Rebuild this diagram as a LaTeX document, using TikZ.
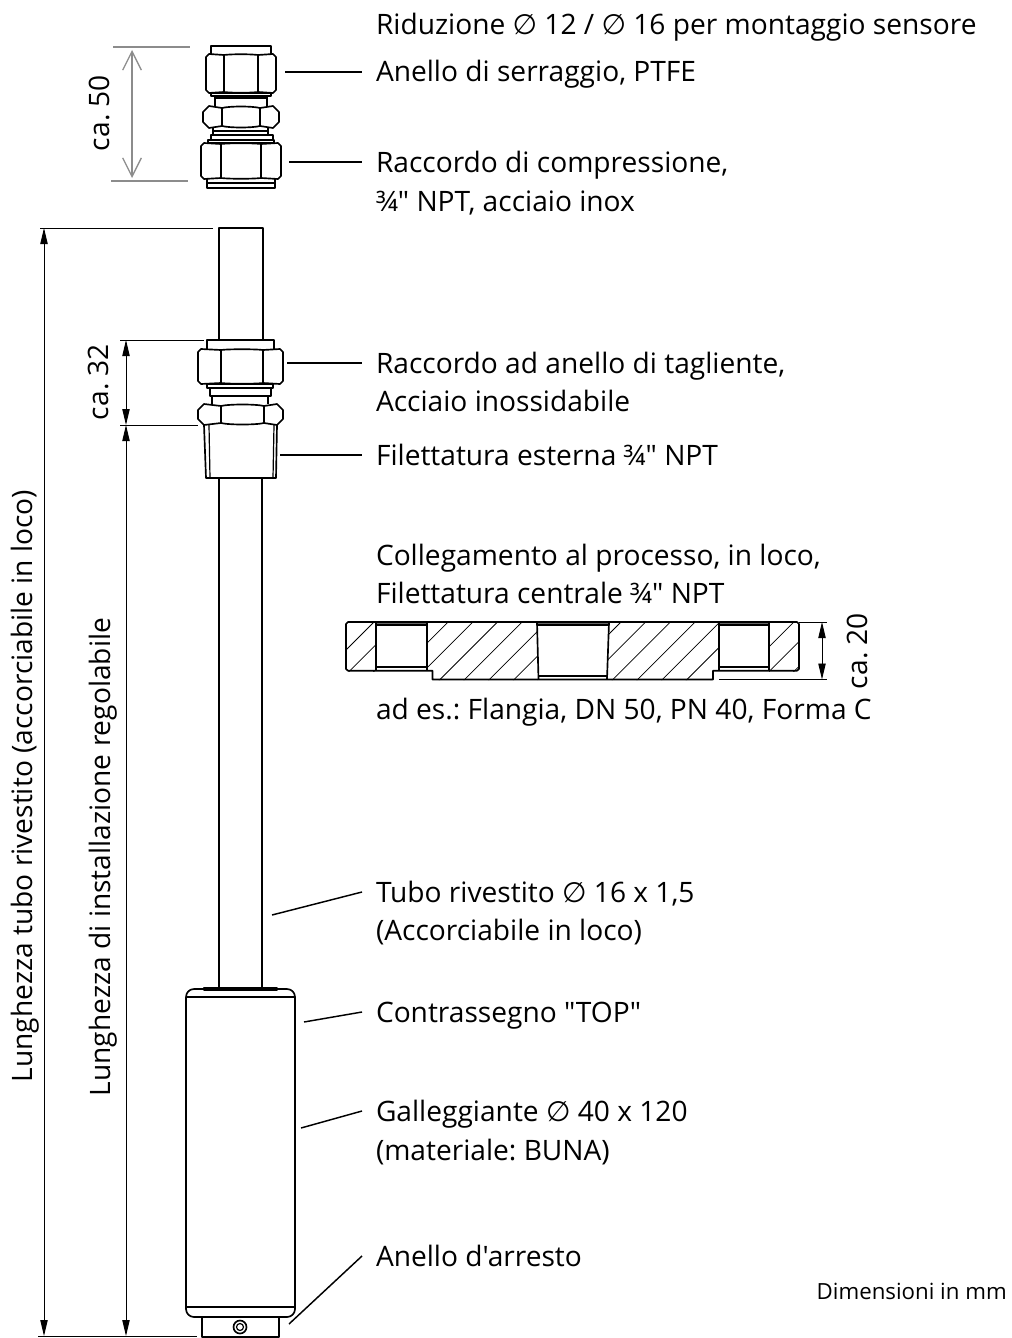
\documentclass[tikz,border=0pt]{standalone}
\usepackage{fontspec}
\usetikzlibrary{arrows.meta}
\newfontfamily\labf{Open Sans}
\newfontfamily\symf{DejaVu Sans}
\newcommand{\dia}{{\symf ∅}}
\tikzset{
  lab/.style={anchor=west,inner sep=0pt,outer sep=10.5pt,text height=16.5pt,text depth=1.5pt,font=\frenchspacing\labf\fontsize{21.1pt}{24pt}\selectfont},
  dimtext/.style={rotate=90,anchor=base,inner sep=0pt,font=\frenchspacing\labf\fontsize{21.1pt}{24pt}\selectfont},
  part/.style={draw=black,line width=1.25pt,line join=round},
  thinpart/.style={draw=black,line width=.9pt},
  leader/.style={draw=black,line width=1.1pt},
  dimline/.style={draw=black,line width=.7pt},
  greyline/.style={draw=black!45,line width=1pt},
  dimarrow/.style={dimline,{Triangle[length=12pt,width=5.5pt]}-{Triangle[length=12pt,width=5.5pt]}},
  hatchline/.style={draw=black,line width=.55pt},
}
% hexagon nut: #1 x1, #2 x2, #3 y1, #4 y2, #5 inner v1, #6 inner v2, #7 chamfer, #8 bulge
\newcommand{\nutshape}[8]{
  \draw[part] (#1+#7,#3) -- (#5,#3+#8) .. controls (#5+8,#3) and (#6-8,#3) .. (#6,#3+#8) -- (#2-#7,#3) -- (#2,#3+#7) -- (#2,#4-#7) -- (#2-#7,#4) -- (#6,#4-#8) .. controls (#6-8,#4) and (#5+8,#4) .. (#5,#4-#8) -- (#1+#7,#4) -- (#1,#4-#7) -- (#1,#3+#7) -- cycle;
  \draw[part] (#5,#3+#8) -- (#5,#4-#8) (#6,#3+#8) -- (#6,#4-#8);
}
\begin{document}
\begin{tikzpicture}[x=.75pt,y=-.75pt]
\useasboundingbox (0,0) rectangle (1012,1338);
% ---- upper fitting
\draw[part] (211,54) -- (211,46) -- (271,46) -- (271,54);
\nutshape{206}{276}{54}{93}{224}{258}{3}{1}
\draw[part] (211,93) rectangle (271,96);
\draw[part] (215,96) -- (215,107) (267,96) -- (267,107);
\draw[thinpart] (215,98) -- (267,98);
\nutshape{203}{279}{106}{128}{222}{260}{6}{2}
\draw[part] (213,128) -- (213,135) (268,128) -- (268,135);
\draw[thinpart] (213,131) -- (268,131);
\draw[part] (211,135) rectangle (273,140);
\draw[part] (208,140) rectangle (274,143);
\nutshape{201}{281}{143}{179}{221}{261}{3}{1}
\draw[part] (207,179) -- (207,188) -- (275,188) -- (275,179);
\draw[thinpart] (207,183) -- (275,183);
% ---- tube
\draw[part] (219,340) -- (219,228) -- (263,228) -- (263,340);
\draw[part] (219,478) -- (219,989) (262,478) -- (262,989);
% ---- middle fitting
\draw[part] (207,349) -- (207,340) -- (274,340) -- (274,349);
\nutshape{198}{283}{349}{384}{221}{263}{3}{1}
\draw[part] (207,384) rectangle (273,388);
\draw[part] (210,388) rectangle (271,396);
\draw[part] (212,396) -- (212,404) (268,396) -- (268,404);
\nutshape{198}{283}{404}{425}{221}{264}{6}{2}
\draw[part] (204,425) -- (206,478) -- (276,478) -- (277,425);
\draw[thinpart] (209,425) -- (210,478) (274,425) -- (273,478);
% ---- float
\draw[part,rounded corners=6pt] (186,989) rectangle (295,1317);
\draw[part] (186,997) -- (295,997) (186,1307) -- (295,1307);
\draw[part,fill=black] (204,988) rectangle (277,990);
\draw[part] (202,1317) -- (202,1337) -- (279,1337) -- (279,1317);
\draw[part] (240,1327) circle[radius=6.5];
\draw[thinpart] (240,1327) circle[radius=3.5];
% ---- flange
\begin{scope}
\clip (346,622) rectangle (376,671);
\foreach \k in {0,...,2} \draw[hatchline] ({996+24.7*\k-700},700) -- ({996+24.7*\k-600},600);
\end{scope}
\begin{scope}
\clip (427,622) -- (537,622) -- (538.5,680) -- (432.5,680) -- (432.5,670.7) -- (427,670.7) -- cycle;
\foreach \k in {3,...,9} \draw[hatchline] ({996+24.7*\k-700},700) -- ({996+24.7*\k-600},600);
\end{scope}
\begin{scope}
\clip (609,622) -- (719,622) -- (719,670.7) -- (713,670.7) -- (713,680) -- (607,680) -- cycle;
\foreach \k in {9,...,16} \draw[hatchline] ({996+24.7*\k-700},700) -- ({996+24.7*\k-600},600);
\end{scope}
\begin{scope}
\clip (769,622) rectangle (799,671);
\foreach \k in {17,...,20} \draw[hatchline] ({996+24.7*\k-700},700) -- ({996+24.7*\k-600},600);
\end{scope}
\draw[part] (348,622) -- (797,622) -- (799,624) -- (799,669) -- (797,670.7) -- (719,670.7) -- (713,670.7) -- (713,679.5) -- (432.5,679.5) -- (432.5,670.7) -- (348,670.7) -- (346,669) -- (346,624) -- cycle;
\draw[part] (376,622) -- (376,670.7) (427,622) -- (427,670.7);
\draw[part] (719,622) -- (719,670.7) (769,622) -- (769,670.7);
\draw[part] (537,622) -- (538.5,679.5) (609,622) -- (607,679.5);
\draw[part,fill=black!60] (376,622) rectangle (427,625);
\draw[part,fill=black!60] (719,622) rectangle (769,625);
\draw[part,fill=black!60] (537,622) rectangle (609,625);
\draw[part] (376,667) -- (427,667) (719,667) -- (769,667);
\draw[part] (538.5,676) -- (607,676);
% ---- labels
\node[lab] (a1) at (362,25) {Riduzione \dia{} 12 / \dia{} 16 per montaggio sensore};
\node[lab] (a2) at (362,72) {Anello di serraggio, PTFE};
\node[lab] (a3) at (362,162) {Raccordo di compressione,};
\node[lab] (a3b) at (362,201) {¾" NPT, acciaio inox};
\node[lab] (a4) at (362,363) {Raccordo ad anello di tagliente,};
\node[lab] (a4b) at (362,401) {Acciaio inossidabile};
\node[lab] (a5) at (362,455) {Filettatura esterna ¾" NPT};
\node[lab] (a6) at (362,555) {Collegamento al processo, in loco,};
\node[lab] (a6b) at (362,593) {Filettatura centrale ¾" NPT};
\node[lab] (a7) at (362,709) {ad es.: Flangia, DN 50, PN 40, Forma C};
\node[lab] (a8) at (362,892) {Tubo rivestito \dia{} 16 x 1,5};
\node[lab] (a8b) at (362,930) {(Accorciabile in loco)};
\node[lab] (a9) at (362,1012) {Contrassegno "TOP"};
\node[lab] (a10) at (362,1111) {Galleggiante \dia{} 40 x 120};
\node[lab] (a10b) at (362,1150) {(materiale: BUNA)};
\node[lab] (a11) at (362,1256) {Anello d'arresto};
\node[anchor=base east,inner sep=0pt,font=\labf\fontsize{16.7pt}{18pt}\selectfont] (note) at (1007,1299) {Dimensioni in mm};
% ---- leaders
\coordinate (l2) at (285,72);
\coordinate (l3) at (289,162);
\coordinate (l4) at (287,363);
\coordinate (l5) at (280,455);
\coordinate (l8) at (272,915);
\coordinate (l9) at (304,1022);
\coordinate (l10) at (301,1128);
\coordinate (l11) at (289,1324);
\draw[leader] (l2) -- (a2.west);
\draw[leader] (l3) -- (a3.west);
\draw[leader] (l4) -- (a4.west);
\draw[leader] (l5) -- (a5.west);
\draw[leader] (l8) -- (a8.west);
\draw[leader] (l9) -- (a9.west);
\draw[leader] (l10) -- (a10.west);
\draw[leader] (l11) -- (a11.west);
% ---- dimensions
\draw[greyline] (113,47) -- (190,47) (111,181) -- (188,181);
\draw[greyline,{Straight Barb[length=14pt,width=14pt]}-{Straight Barb[length=14pt,width=14pt]}] (132,50) -- (132,178);
\node[dimtext] (d50) at (109,113) {ca. 50};
\draw[dimline] (40,228) -- (213,228);
\draw[dimline] (120,340) -- (204,340);
\draw[dimline] (120,425) -- (198,425);
\draw[dimline] (38,1336) -- (197,1336);
\draw[dimarrow] (44,228) -- (44,1336);
\draw[dimarrow] (126,340) -- (126,425);
\draw[dimarrow] (126,425) -- (126,1336);
\node[dimtext] (d32) at (108,382) {ca. 32};
\node[dimtext] (dl1) at (32,786) {Lunghezza tubo rivestito (accorciabile in loco)};
\node[dimtext] (dl2) at (110,857) {Lunghezza di installazione regolabile};
\draw[dimline] (799,622) -- (827,622) (719,679.5) -- (827,679.5);
\draw[dimarrow] (822,622) -- (822,679.5);
\node[dimtext] (d20) at (867,651) {ca. 20};
\end{tikzpicture}
\end{document}
